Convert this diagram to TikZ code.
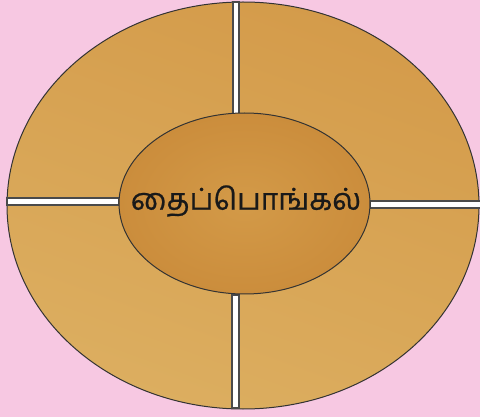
\documentclass[tikz,border=0pt]{standalone}
\usepackage{fontspec}
\newfontfamily\tamilfont[Script=Tamil,FakeBold=0.7]{Hind Madurai}
\definecolor{bgpink}{HTML}{F7C8E2}
\definecolor{ringtop}{HTML}{D49B4A}
\definecolor{ringbottom}{HTML}{DCAE60}
\definecolor{innerfill}{HTML}{CB8D3C}
\definecolor{innerlight}{HTML}{D39A48}
\definecolor{edge}{HTML}{333333}
\definecolor{baredge}{HTML}{4A4A4A}
\tikzset{
  ellipseedge/.style={draw=edge, line width=1pt},
  bar/.style={fill=white, draw=baredge, line width=1.2pt},
  label/.style={font=\tamilfont\fontsize{30}{36}\selectfont, text=black!90}
}
\begin{document}
\begin{tikzpicture}[x=1pt,y=-1pt]
  \fill[bgpink] (0,0) rectangle (480,417);
  \useasboundingbox (0,0) rectangle (480,417);
  % outer ellipse
  \shade[top color=ringtop, bottom color=ringbottom, shading angle=-20] (243,205.5) ellipse [x radius=236, y radius=203.5];
  \draw[ellipseedge] (243,205.5) ellipse [x radius=236, y radius=203.5];
  % bars
  \draw[bar] (233,2) rectangle (239,114);
  \draw[bar] (232,295) rectangle (239,408);
  \draw[bar] (7,198) rectangle (119,205);
  \draw[bar] (370,201) rectangle (481,208);
  % inner ellipse
  \shade[inner color=innerlight, outer color=innerfill] (244.5,203.5) ellipse [x radius=125.5, y radius=90.5];
  \draw[ellipseedge] (244.5,203.5) ellipse [x radius=125.5, y radius=90.5];
  \node[label] (title) at (246,201) {தைப்பொங்கல்};
\end{tikzpicture}
\end{document}
